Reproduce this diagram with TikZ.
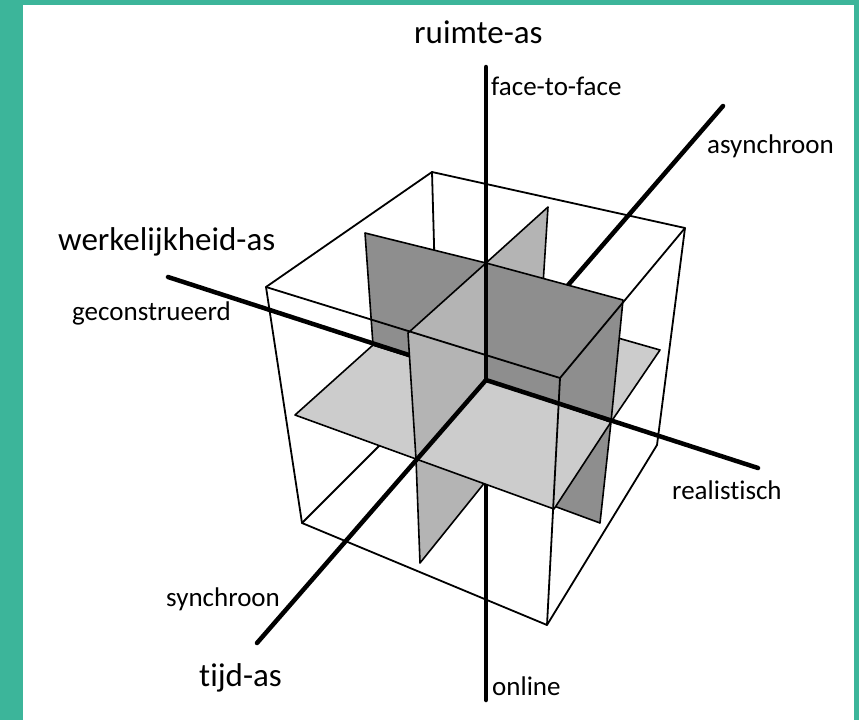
\documentclass[tikz,border=0pt]{standalone}
\usepackage{fontspec}
\setmainfont{Carlito}[Ligatures={NoCommon}]
\usetikzlibrary{calc}
\definecolor{tealframe}{RGB}{60,181,154}
\definecolor{darkplane}{RGB}{142,142,142}
\definecolor{sideplane}{RGB}{180,180,180}
\definecolor{floorplane}{RGB}{204,204,204}
\tikzset{cubeedge/.style={line width=1.8pt, line join=round, line cap=round}, axisline/.style={line width=4.5pt, line cap=round}, darkquad/.style={fill=darkplane, draw=black, line width=1.6pt, line join=round}, sidequad/.style={fill=sideplane, draw=black, line width=1.6pt, line join=round}, floorquad/.style={fill=floorplane, draw=black, line width=1.6pt, line join=round}, axistitle/.style={inner sep=0pt, anchor=base west, font=\fontsize{33}{40}\selectfont}, polelabel/.style={inner sep=0pt, anchor=base west, font=\fontsize{27}{32}\selectfont}}

\begin{document}
\begin{tikzpicture}[x=1pt,y=-1pt]
    \fill[tealframe] (0,0) rectangle (859,720);
    \fill[white] (23,5) rectangle (854,720);
    \useasboundingbox (0,0) rectangle (859,720);
    % cube corners
    \coordinate (TopL) at (266,287); \coordinate (TopB) at (432,172); \coordinate (TopF) at (560,378); \coordinate (TopR) at (685,228);
    \coordinate (BotL) at (302,523); \coordinate (BotB) at (438,387); \coordinate (BotF) at (547,625); \coordinate (BotR) at (657,445);
    % axes
    \coordinate (O) at (486,380);
    \coordinate (RuimteTop) at (486,67); \coordinate (RuimteBot) at (486,700);
    \coordinate (WerkL) at (168,277); \coordinate (WerkR) at (758,468);
    \coordinate (TijdF) at (257,643); \coordinate (TijdB) at (723,106);
    % planes
    \coordinate (DarkTL) at (365,233); \coordinate (DarkTR) at (623,300); \coordinate (DarkBR) at (600,523); \coordinate (DarkBL) at (380,440);
    \coordinate (DarkT) at (486,263); \coordinate (DarkB) at (486,481); \coordinate (DarkL) at (373,345); \coordinate (DarkR) at (611,422);
    \coordinate (SideTF) at (408,333); \coordinate (SideTB) at (548,207); \coordinate (SideBF) at (420,563); \coordinate (SideBB) at (539,414);
    \coordinate (SideF) at (416,459); \coordinate (SideB) at (541,316);
    \coordinate (FloorL) at (295,415); \coordinate (FloorF) at (554,509); \coordinate (FloorR) at (660,350); \coordinate (FloorB) at (438,288);
    % back edges of the cube
    \draw[cubeedge] (TopL) -- (TopB) -- (TopR) -- (BotR) -- (BotF) -- (BotL) -- cycle;
    \draw[cubeedge] (TopB) -- (BotB) -- (BotL);
    % quadrants, back to front
    \draw[darkquad] (DarkL) -- (O) -- (DarkB) -- (DarkBL) -- cycle;
    \draw[sidequad] (O) -- (SideB) -- (SideBB) -- (DarkB) -- cycle;
    \draw[floorquad] (DarkL) -- (FloorB) -- (SideB) -- (O) -- cycle;
    \draw[darkquad] (O) -- (DarkR) -- (DarkBR) -- (DarkB) -- cycle;
    \draw[floorquad] (O) -- (SideB) -- (FloorR) -- (DarkR) -- cycle;
    \draw[sidequad] (O) -- (SideF) -- (SideBF) -- (DarkB) -- cycle;
    \draw[floorquad] (DarkL) -- (O) -- (SideF) -- (FloorL) -- cycle;
    \draw[sidequad] (O) -- (DarkT) -- (SideTB) -- (SideB) -- cycle;
    \draw[darkquad] (DarkL) -- (DarkTL) -- (DarkT) -- (O) -- cycle;
    \draw[axisline] (O) -- (TijdB);
    \draw[axisline] (O) -- (WerkL);
    \draw[axisline] (O) -- (RuimteBot);
    \draw[floorquad] (O) -- (DarkR) -- (FloorF) -- (SideF) -- cycle;
    \draw[darkquad] (O) -- (DarkT) -- (DarkTR) -- (DarkR) -- cycle;
    \draw[sidequad] (O) -- (DarkT) -- (SideTF) -- (SideF) -- cycle;
    % front edges of the cube
    \draw[cubeedge] (TopL) -- (TopF) -- (TopR);
    \draw[cubeedge] (TopF) -- (BotF);
    \draw[axisline] (O) -- (RuimteTop);
    \draw[axisline] (O) -- (WerkR);
    \draw[axisline] (O) -- (TijdF);
    % labels
    \node[axistitle] (ruimte) at (414,43) {ruimte-as};
    \node[axistitle] (werk) at (58,250) {werkelijkheid-as};
    \node[axistitle] (tijd) at (199,686) {tijd-as};
    \node[polelabel] (f2f) at (491,95) {face-to-face};
    \node[polelabel] (online) at (492,695) {online};
    \node[polelabel] (async) at (707,153) {asynchroon};
    \node[polelabel] (sync) at (166,606) {synchroon};
    \node[polelabel] (gecon) at (72,320) {geconstrueerd};
    \node[polelabel] (real) at (672,499) {realistisch};
\end{tikzpicture}
\end{document}
